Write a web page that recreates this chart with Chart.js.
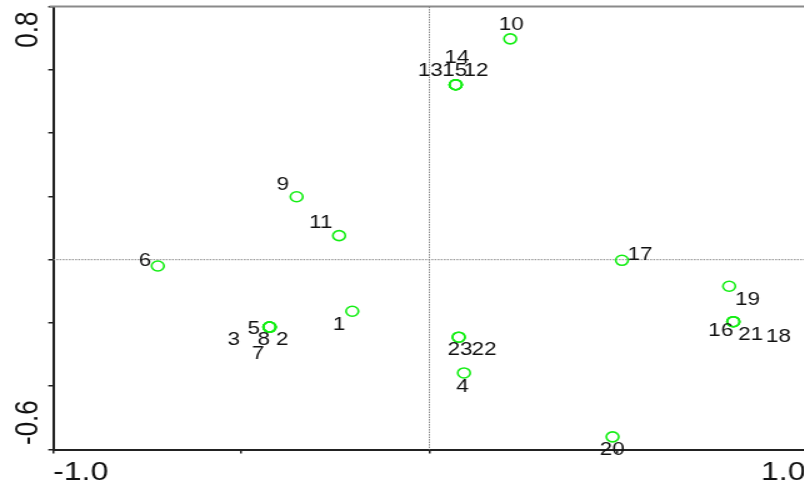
<!DOCTYPE html>
<html>
<head>
<meta charset="utf-8">
<script src="https://cdn.jsdelivr.net/npm/chart.js@4/dist/chart.umd.min.js"></script>
<style>
  html, body { margin: 0; padding: 0; background: #fff; overflow: hidden; }
  /* the source picture is stretched sideways, so the chart is drawn narrow and scaled */
  #wrap { position: absolute; left: 0; top: 0; width: 651px; height: 486px;
          transform: scaleX(1.25); transform-origin: 0 0; }
</style>
</head>
<body>
<div id="wrap"><canvas id="chart"></canvas></div>
<script>
// sample ids and their ordination scores
const pointIds = ['1', '2', '3', '4', '5', '6', '7', '8', '9', '10', '11', '12',
  '13', '14', '15', '16', '17', '18', '19', '20', '21', '22', '23'];
const xValues = [-0.205, -0.425, -0.425, 0.092, -0.425, -0.722, -0.425, -0.425, -0.353, 0.215, -0.240, 0.070,
  0.070, 0.070, 0.070, 0.808, 0.512, 0.808, 0.797, 0.487, 0.808, 0.078, 0.078];
const yValues = [-0.163, -0.213, -0.213, -0.358, -0.213, -0.020, -0.213, -0.213, 0.199, 0.698, 0.076, 0.553,
  0.553, 0.553, 0.553, -0.196, -0.002, -0.196, -0.084, -0.560, -0.196, -0.245, -0.245];

const xTickValues = [-1, 1];
const xTickLabels = ['-1.0', '1.0'];
const yTickValues = [0.8, -0.6];
const yTickLabels = ['0.8', '-0.6'];

// where each label sits relative to its point (unscaled px)
const labelOffsets = [[-10.5, 13.4], [10.2, 12.6], [-28.5, 12.6], [-1.1, 13.8], [-12.5, 1.8], [-10.2, -5.4],
  [-9.2, 27.4], [-4.5, 12.6], [-11, -12], [0.7, -13.4], [-14.6, -12.8], [16.2, -13.3],
  [-20.4, -13.3], [1, -26.6], [-0.8, -13.3], [-10, 9], [14.4, -5], [36.2, 15.7],
  [14.7, 13.4], [-0.2, 12.8], [13.8, 13.3], [20.4, 13], [1, 13]];

const FONT = '"Liberation Sans", Arial, sans-serif';

const overlay = {
  id: 'overlay',
  beforeDatasetsDraw(chart) {
    const { ctx, chartArea: a, scales: { x, y } } = chart;
    ctx.save();
    // grey frame line along the top
    ctx.strokeStyle = '#8a8a8a';
    ctx.lineWidth = 2;
    ctx.beginPath();
    ctx.moveTo(a.left - 3, y.getPixelForValue(0.8));
    ctx.lineTo(a.right + 10, y.getPixelForValue(0.8));
    ctx.stroke();
    // dotted origin lines
    ctx.strokeStyle = '#888';
    ctx.lineWidth = 1;
    ctx.setLineDash([1.5, 1]);
    ctx.beginPath();
    ctx.moveTo(a.left, y.getPixelForValue(0));
    ctx.lineTo(a.right, y.getPixelForValue(0));
    ctx.moveTo(x.getPixelForValue(0), a.top);
    ctx.lineTo(x.getPixelForValue(0), a.bottom);
    ctx.stroke();
    ctx.restore();
  },
  afterDraw(chart) {
    const { ctx, scales: { x, y } } = chart;
    ctx.save();
    ctx.fillStyle = '#111';
    ctx.font = '18px ' + FONT;
    ctx.textAlign = 'center';
    ctx.textBaseline = 'middle';
    pointIds.forEach((id, i) => {
      const px = x.getPixelForValue(xValues[i]) + labelOffsets[i][0];
      const py = y.getPixelForValue(yValues[i]) + labelOffsets[i][1];
      ctx.fillText(id, px, py);
    });
    // rotated y tick labels, pushed inside the axis range
    ctx.font = '26px ' + FONT;
    ctx.textBaseline = 'alphabetic';
    yTickValues.forEach((v, i) => {
      const top = i === 0;
      ctx.save();
      ctx.translate(29.5, y.getPixelForValue(v) + (top ? 5 : -4.5));
      ctx.rotate(-Math.PI / 2);
      ctx.textAlign = top ? 'right' : 'left';
      ctx.fillText(yTickLabels[i], 0, 0);
      ctx.restore();
    });
    ctx.restore();
  }
};

new Chart(document.getElementById('chart'), {
  type: 'scatter',
  data: {
    datasets: [{
      data: xValues.map((v, i) => ({ x: v, y: yValues[i] })),
      pointStyle: 'circle',
      pointRadius: 5,
      pointHoverRadius: 5,
      borderWidth: 1.6,
      borderColor: '#14ee14',
      backgroundColor: 'rgba(0,0,0,0)'
    }]
  },
  options: {
    responsive: true,
    maintainAspectRatio: false,
    animation: false,
    layout: { padding: { top: 5.3, left: 0, right: 0, bottom: 0 } },
    plugins: { legend: { display: false }, tooltip: { enabled: false } },
    scales: {
      x: {
        type: 'linear',
        min: -1,
        max: 1,
        afterFit: (scale) => { scale.height = 36.5; },
        ticks: {
          stepSize: 0.5,
          autoSkip: false,
          align: 'inner',
          maxRotation: 0,
          padding: 4,
          color: '#111',
          font: { family: FONT, size: 25.6 },
          callback: (v) => {
            const k = xTickValues.indexOf(v);
            return k >= 0 ? xTickLabels[k] : '';
          }
        },
        grid: { drawOnChartArea: false, drawTicks: true, tickLength: 4, color: '#222', lineWidth: 1.5 },
        border: { display: true, color: '#222', width: 2 }
      },
      y: {
        type: 'linear',
        min: -0.6,
        max: 0.8,
        afterFit: (scale) => { scale.width = 42.6; },
        ticks: { stepSize: 0.2, display: false },
        grid: { drawOnChartArea: false, drawTicks: true, tickLength: 4, color: '#222', lineWidth: 1.5 },
        border: { display: true, color: '#222', width: 2 }
      }
    }
  },
  plugins: [overlay]
});
</script>
</body>
</html>
